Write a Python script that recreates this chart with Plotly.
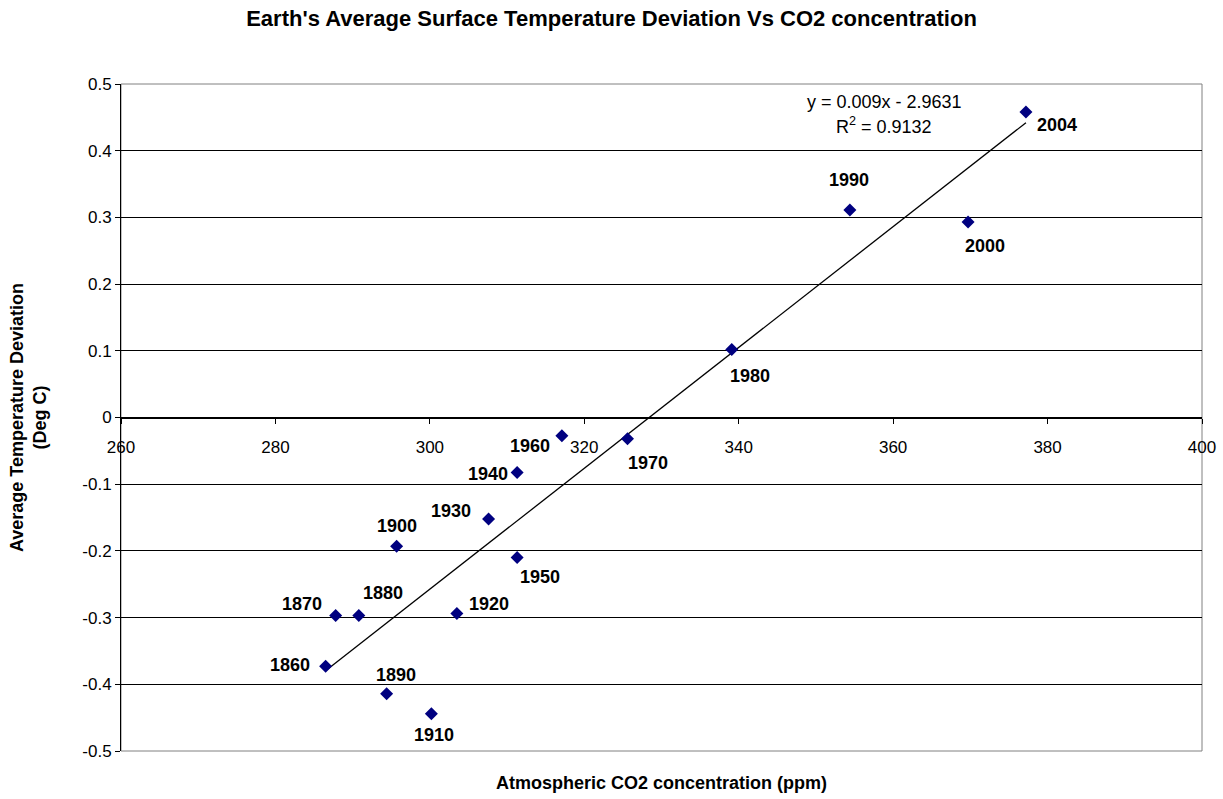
import numpy as np
import plotly.graph_objects as go

# ---- data ----
years = ["1860", "1870", "1880", "1890", "1900", "1910", "1920", "1930",
         "1940", "1950", "1960", "1970", "1980", "1990", "2000", "2004"]
co2_ppm = [286.5, 287.8, 290.8, 294.4, 295.7, 300.2, 303.5, 307.6,
           311.3, 311.3, 317.1, 325.6, 339.1, 354.4, 369.7, 377.2]
temp_dev = [-0.373, -0.297, -0.297, -0.414, -0.193, -0.444, -0.294, -0.152,
            -0.0825, -0.210, -0.0275, -0.032, 0.102, 0.311, 0.293, 0.458]

x_ticks = [260, 280, 300, 320, 340, 360, 380, 400]
x_tick_text = ["260", "280", "300", "320", "340", "360", "380", "400"]
y_ticks = [-0.5, -0.4, -0.3, -0.2, -0.1, 0, 0.1, 0.2, 0.3, 0.4, 0.5]
y_tick_text = ["-0.5", "-0.4", "-0.3", "-0.2", "-0.1", "0", "0.1", "0.2", "0.3", "0.4", "0.5"]

trend_eq = "y = 0.009x - 2.9631"
trend_r2 = "R<sup>2</sup> = 0.9132"

title_text = "Earth's Average Surface Temperature Deviation Vs CO2 concentration"
x_title = "Atmospheric CO2 concentration (ppm)"
y_title = "Average Temperature Deviation<br>(Deg C)"

FONT = "Arial, Liberation Sans, sans-serif"

# label offsets in pixels (style only)
label_shift = {
    "1860": (-36, 1), "1870": (-34, 12), "1880": (24, 23), "1890": (9, 19),
    "1900": (0, 20), "1910": (3, -21), "1920": (32, 10), "1930": (-38, 8),
    "1940": (-29, -1), "1950": (23, -19), "1960": (-32, -10), "1970": (20, -24),
    "1980": (18, -27), "1990": (-1, 30), "2000": (17, -24), "2004": (31, -13),
}

# linear trendline (least squares)
slope, intercept = np.polyfit(co2_ppm, temp_dev, 1)
tx = np.array([min(co2_ppm), max(co2_ppm)])
ty = slope * tx + intercept

fig = go.Figure()
fig.add_trace(go.Scatter(x=tx, y=ty, mode="lines",
                         line=dict(color="black", width=1.3),
                         hoverinfo="skip", showlegend=False))
fig.add_trace(go.Scatter(x=co2_ppm, y=temp_dev, mode="markers",
                         marker=dict(symbol="diamond", size=10, color="#000080"),
                         text=years, showlegend=False))

annotations = []
for yr, xv, yv in zip(years, co2_ppm, temp_dev):
    dx, dy = label_shift[yr]
    annotations.append(dict(x=xv, y=yv, xref="x", yref="y", text=f"<b>{yr}</b>",
                            showarrow=False, xshift=dx, yshift=dy,
                            font=dict(family=FONT, size=18, color="black")))

annotations.append(dict(x=(884 - 121) / 1081, y=(751 - 102) / 667, xref="paper", yref="paper",
                        text=trend_eq, showarrow=False, xanchor="center", yanchor="middle",
                        font=dict(family=FONT, size=18, color="black")))
annotations.append(dict(x=(884 - 121) / 1081, y=(751 - 126) / 667, xref="paper", yref="paper",
                        text=trend_r2, showarrow=False, xanchor="center", yanchor="middle",
                        font=dict(family=FONT, size=18, color="black")))
annotations.append(dict(x=(661 - 121) / 1081, y=(751 - 783) / 667, xref="paper", yref="paper",
                        text=f"<b>{x_title}</b>", showarrow=False, xanchor="center", yanchor="middle",
                        font=dict(family=FONT, size=18, color="black")))
annotations.append(dict(x=(28 - 121) / 1081, y=(751 - 418) / 667, xref="paper", yref="paper",
                        text=f"<b>{y_title}</b>", showarrow=False, xanchor="center", yanchor="middle",
                        textangle=-90,
                        font=dict(family=FONT, size=18, color="black")))

fig.update_layout(
    width=1223, height=799,
    paper_bgcolor="white", plot_bgcolor="white",
    margin=dict(l=121, r=21, t=84, b=48),
    title=dict(text=f"<b>{title_text}</b>", x=0.5, xanchor="center", y=1 - 18 / 799, yanchor="middle",
               font=dict(family=FONT, size=22, color="black")),
    annotations=annotations,
    shapes=[dict(type="rect", xref="paper", yref="paper", x0=0, x1=1, y0=0, y1=1,
                 line=dict(color="#808080", width=1), layer="below")],
    font=dict(family=FONT, size=17, color="black"),
)
fig.update_xaxes(range=[260, 400], tickvals=x_ticks, ticktext=x_tick_text,
                 anchor="free", position=0.5, showline=True, linecolor="black", linewidth=1,
                 ticks="outside", ticklen=5, tickcolor="black", showgrid=False, zeroline=False,
                 ticklabelstandoff=9, automargin=False,
                 tickfont=dict(family=FONT, size=17, color="black"))
fig.update_yaxes(range=[-0.5, 0.5], tickvals=y_ticks, ticktext=y_tick_text,
                 showline=True, linecolor="black", linewidth=1, ticks="outside", ticklen=5,
                 tickcolor="black", showgrid=True, gridcolor="black", gridwidth=1, zeroline=False,
                 automargin=False,
                 tickfont=dict(family=FONT, size=17, color="black"))

fig.write_html("out.html", config={"displayModeBar": False},
               post_script="document.body.style.margin='0';document.body.style.overflow='hidden';")
